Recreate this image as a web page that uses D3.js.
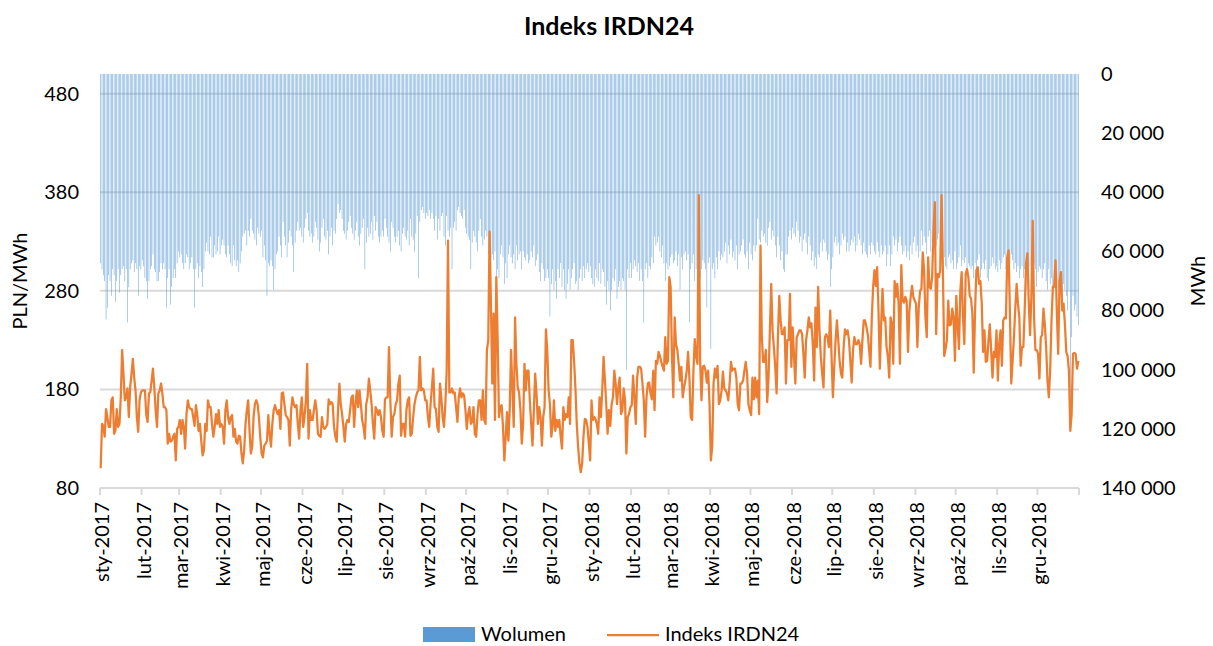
<!DOCTYPE html>
<html>
<head>
<meta charset="utf-8">
<script src="https://cdn.jsdelivr.net/npm/d3@7"></script>
<style>
  body { margin: 0; background: #fff; }
  svg text { font-family: Lato, "Open Sans", sans-serif; fill: #000; }
</style>
</head>
<body>
<svg id="chart" width="1213" height="646"></svg>
<script>
// daily IRDN24 index, PLN/MWh, 1 Jan 2017 .. 31 Dec 2018
const price2017a = [
  100,145,143,132,160,152,142,142,169,172,135,138,160,142,145,172,220,196,169,172,
  181,152,182,196,211,192,179,152,137,169,177,179,179,179,154,147,176,177,189,201,
  182,159,142,176,179,186,176,162,162,159,125,135,127,128,132,135,108,140,142,149,
  135,149,142,120,155,169,162,160,160,152,143,164,155,138,145,128,113,118,145,138,
  169,162,162,145,132,142,155,145,159,142,145,142,125,159,169,152,145,152,154,132,
  140,127,125,133,132,115,105,118,145,159,169,138,115,122,152,165,169,165,152,132,
  115,111,123
];
const price2017b = [
  125,128,154,135,122,145,159,164,159,155,159,140,176,177,165,154,152,149,123,159,
  172,165,162,164,145,130,159,172,142,152,169,206,130,159,149,149,159,169,159,135,
  133,132,152,142,140,142,145,170,165,167,165,142,132,127,159,186,165,155,142,127,
  145,149,147,159,172,174,142,165,179,162,179,165,149,142,130,165,172,191,179,165,
  145,130,162,159,154,159,152,138,132,170,172,172,223,169,132,152,155,165,169,186,
  194,133,145,145,132,159,169,172,133,135,152,165,172,177,179,213,179,181,179,169,
  169,152,142
];
const price2017c = [
  165,182,201,162,160,142,137,186,172,152,142,165,199,331,177,177,181,176,177,162,
  147,172,181,172,176,174,159,140,155,162,145,147,162,135,132,155,169,169,149,179,
  149,145,220,230,340,267,186,257,149,294,233,152,162,164,142,108,132,157,128,159,
  220,182,142,253,206,182,177,159,125,145,206,179,199,199,169,145,123,159,196,176,
  145,162,152,123,152,162,241,220,179,165,132,142,169,138,149,142,149,132,120,162,
  149,155,152,172,145,230,230,209,182,145,122,105,96,105,132,150,149,142,125,108
];
const price2018a = [
  169,149,152,150,145,135,172,152,179,213,189,165,135,159,143,165,172,199,186,165,
  182,192,155,159,181,169,115,152,155,162,164,194,172,145,192,203,203,201,186,169,
  132,172,186,187,176,170,199,159,209,206,218,214,208,203,199,233,206,209,294,284,
  213,172,253,226,220,206,189,203,172,182,189,199,218,192,152,149,199,231,213,206,
  377,209,169,203,204,199,187,199,165,108,122,186,201,192,204,165,169,179,198,181,
  179,176,169,186,208,199,201,201,192,165,159,186,186,189,199,208,196,165,159,154,
  192,170,192
];
const price2018b = [
  172,189,155,326,233,208,208,220,167,192,240,287,240,223,203,176,233,275,250,236,
  236,243,186,230,230,277,203,243,213,186,233,236,240,240,236,216,192,230,240,253,
  243,247,226,189,263,223,284,240,213,196,182,233,236,233,223,260,213,172,203,230,
  250,230,209,196,192,223,241,236,240,230,209,187,220,233,226,226,230,226,206,230,
  250,250,243,236,220,203,253,284,301,285,304,260,201,247,282,250,253,223,213,192,
  253,247,206,290,274,287,267,206,306,270,268,274,270,218,260,274,285,274,270,267,
  223,263,280
];
const price2018c = [
  282,319,301,253,233,314,284,282,294,341,370,236,297,294,301,377,301,214,221,230,
  270,245,246,262,253,209,275,246,221,280,299,253,226,297,302,294,275,272,257,197,
  260,301,304,287,290,267,218,240,208,209,230,246,220,192,218,213,240,189,226,240,
  204,250,253,252,314,321,257,186,209,233,263,287,267,253,204,223,223,260,307,318,
  270,235,274,351,253,220,220,216,191,233,235,262,246,223,189,172,199,250,284,284,
  311,257,216,290,299,260,267,246,218,214,199,138,155,216,217,216,201,209
];

// daily volume, thousands of MWh, same days
const vol2017a = [
  64,66,68,70,83,79,68,70,75,66, 68,77,70,66,74,68,66,65,70,66,
  84,72,66,64,63,67,64,66,75,65, 66,63,65,69,70,76,70,66,65,61,
  66,67,70,70,67,64,66,64,66,79, 69,66,78,72,69,66,69,64,60,62,
  61,64,66,64,61,62,66,64,62,66, 79,66,64,69,65,67,72,66,60,57,
  60,61,55,62,62,58,61,60,55,61, 58,56,58,61,62,58,61,64,65,58,
  63,65,63,67,64,60,55,54,53,58, 53,55,49,53,54,56,58,52,54,55,
  53,62,58
];
const vol2017b = [
  63,75,64,65,63,65,73,66,61,60,55,58,62,
  50,55,58,62,57,53,55,58,67,57,53,50,
  53,52,55,57,52,49,47,53,55,54,57,55,50,
  52,56,60,57,52,49,55,56,53,61,55,52,
  58,53,54,49,44,47,46,49,53,54,56,53,50,
  48,52,54,56,53,50,55,58,54,52,49,66,
  57,52,55,54,50,56,48,53,50,55,57,55,53,
  55,49,52,55,57,60,50,52,55,57,55,53,
  58,60,54,52,55,56,53,58,49,55,56,60,54,
  48,69,50,46,45,47,49,47,48,46
];
const vol2017c = [
  49,47,49,53,48,56,49,53,48,47,55,58,
  48,53,55,52,66,52,50,53,46,45,47,48,49,
  46,52,54,55,56,66,57,53,55,57,60,53,
  49,55,58,56,53,55,61,58,62,61,63,60,71,
  66,69,61,58,62,71,64,69,61,58,62,64,
  61,66,58,63,61,60,66,60,62,63,61,64,63,
  60,62,58,65,63,61,67,70,64,66,70,69,
  66,69,82,71,66,73,70,76,66,69,64,72,66,
  73,76,71,66,73,69,66,64,71,70,
  73,69,66,70,65,69,66,64,67,65
];
const vol2018a = [
  69,71,72,66,69,70,64,71,66,67,72,78,
  70,73,80,73,69,70,66,76,72,70,73,69,70,
  73,100,66,69,64,69,66,63,65,67,64,70,
  66,70,84,66,64,69,65,66,62,64,55,58,57,
  55,60,62,58,64,70,64,66,65,62,61,64,
  63,60,65,61,73,62,66,61,60,63,61,84,66,
  64,61,70,66,63,65,69,66,63,64,66,79,
  64,62,93,66,64,69,62,66,60,63,61,62,60,
  57,64,58,61,56,62,60,63,58,66,61,60,
  58,56,61,62,60,66,57,61,63,58,60
];
const vol2018b = [
  58,49,56,57,53,55,54,57,58,52,50,56,
  53,55,58,62,55,58,63,60,66,67,61,61,55,
  53,56,52,54,55,50,53,57,55,60,56,54,
  57,61,55,58,63,60,65,62,66,61,62,57,60,
  56,57,60,63,61,72,66,62,57,55,58,57,
  61,58,54,56,55,60,57,60,58,56,57,55,60,
  58,54,56,58,61,57,60,61,62,58,61,57,
  58,60,61,57,60,62,58,61,60,58,65,61,58,
  65,61,55,58,56,60,57,55,58,61,60,58,
  62,60,63,58,61,57,55,60,58,62,60
];
const vol2018c = [
  53,58,55,57,61,55,53,60,57,55,55,58,
  56,54,60,57,61,62,65,66,62,61,64,63,66,
  60,66,64,62,58,65,63,64,62,66,64,65,
  66,65,69,64,66,63,61,69,66,64,66,63,69,
  70,66,65,62,64,66,65,67,63,66,64,62,
  61,66,67,65,64,61,63,66,64,67,65,69,66,
  65,69,66,73,66,69,65,67,70,64,66,72,
  67,65,66,69,66,64,70,73,66,71,69,75,72,
  66,71,73,75,72,78,71,73,75,80,73,114,89,75,80,78,82,85
];

const monthNames = ["sty", "lut", "mar", "kwi", "maj", "cze", "lip", "sie", "wrz", "paź", "lis", "gru"];
const priceTicks = [80, 180, 280, 380, 480];
const volumeTicks = [0, 20000, 40000, 60000, 80000, 100000, 120000, 140000];

const price = [].concat(price2017a, price2017b, price2017c, price2018a, price2018b, price2018c);
const volume = [].concat(vol2017a, vol2017b, vol2017c, vol2018a, vol2018b, vol2018c).map(v => v * 1000);

const start = new Date(Date.UTC(2017, 0, 1));
const end = new Date(Date.UTC(2019, 0, 1));
const rows = price.map((p, i) => ({ date: d3.utcDay.offset(start, i), price: p, volume: volume[i] }));

const margin = { top: 74, right: 134, bottom: 158, left: 100 };
const W = 1213, H = 646;
const plotW = W - margin.left - margin.right;
const plotH = H - margin.top - margin.bottom;

const svg = d3.select("#chart");
const g = svg.append("g").attr("transform", "translate(" + margin.left + "," + margin.top + ")");

const x = d3.scaleUtc().domain([start, end]).range([0, plotW]);
const slot = x(d3.utcDay.offset(start, 1)) - x(start);
const yPrice = d3.scaleLinear().domain([80, 500]).range([plotH, 0]);
const yVol = d3.scaleLinear().domain([0, 140000]).range([0, plotH]);

const plFormat = d3.formatLocale({ decimal: ",", thousands: "\u00a0", grouping: [3], currency: ["", ""] }).format(",");

// gridlines
g.append("g").selectAll("line")
  .data(priceTicks.filter(t => t !== 80))
  .join("line")
  .attr("x1", 0).attr("x2", plotW)
  .attr("y1", d => yPrice(d)).attr("y2", d => yPrice(d))
  .attr("stroke", "#d9d9d9").attr("stroke-width", 2);

// volume bars hanging from the top (thin, so they come out light like the original)
const barW = slot * 0.38;
g.append("g").selectAll("rect")
  .data(rows)
  .join("rect")
  .attr("x", d => x(d.date) + (slot - barW) / 2)
  .attr("width", barW)
  .attr("y", 0)
  .attr("height", d => yVol(d.volume))
  .attr("fill", "#5b9bd5");

// bottom axis
const months = d3.utcMonth.range(start, d3.utcDay.offset(end, 1));
const xAxis = g.append("g").attr("transform", "translate(0," + plotH + ")");
xAxis.append("line").attr("x1", 0).attr("x2", plotW).attr("stroke", "#d9d9d9").attr("stroke-width", 2);
xAxis.selectAll(".tick")
  .data(months)
  .join("line")
  .attr("class", "tick")
  .attr("x1", d => x(d)).attr("x2", d => x(d))
  .attr("y1", 0).attr("y2", 7)
  .attr("stroke", "#d9d9d9").attr("stroke-width", 2);
xAxis.selectAll("text")
  .data(months.slice(0, 24))
  .join("text")
  .attr("transform", d => "translate(" + (x(d) + 2) + ",14) rotate(-90)")
  .attr("text-anchor", "end")
  .attr("dy", "0.35em")
  .style("font-size", "20px")
  .text(d => monthNames[d.getUTCMonth()] + "-" + d.getUTCFullYear());

// price line
const line = d3.line()
  .x(d => x(d.date) + slot / 2)
  .y(d => yPrice(d.price));
g.append("path")
  .datum(rows)
  .attr("d", line)
  .attr("fill", "none")
  .attr("stroke", "#ed7d31")
  .attr("stroke-width", 2.25)
  .attr("stroke-linejoin", "round");

// left axis
const leftAxis = g.append("g")
  .call(d3.axisLeft(yPrice).tickValues(priceTicks).tickSize(0).tickPadding(21));
leftAxis.select(".domain").remove();
leftAxis.selectAll("text").style("font-size", "20px").style("font-family", "Lato, sans-serif");

// right axis
const rightAxis = g.append("g")
  .attr("transform", "translate(" + plotW + ",0)")
  .call(d3.axisRight(yVol).tickValues(volumeTicks).tickSize(0).tickPadding(22).tickFormat(plFormat));
rightAxis.select(".domain").remove();
rightAxis.selectAll("text").style("font-size", "20px").style("font-family", "Lato, sans-serif");

// axis titles
svg.append("text")
  .attr("transform", "translate(27,281) rotate(-90)")
  .attr("text-anchor", "middle")
  .style("font-size", "20px")
  .text("PLN/MWh");
svg.append("text")
  .attr("transform", "translate(1205,281) rotate(-90)")
  .attr("text-anchor", "middle")
  .style("font-size", "20px")
  .text("MWh");

// title
svg.append("text")
  .attr("x", 609).attr("y", 35)
  .attr("text-anchor", "middle")
  .style("font-size", "25px")
  .style("font-weight", "bold")
  .text("Indeks IRDN24");

// legend
const legend = svg.append("g");
legend.append("rect").attr("x", 423).attr("y", 627).attr("width", 52).attr("height", 15).attr("fill", "#5b9bd5");
legend.append("text").attr("x", 481).attr("y", 641).style("font-size", "20px").text("Wolumen");
legend.append("line").attr("x1", 607).attr("x2", 659).attr("y1", 635).attr("y2", 635)
  .attr("stroke", "#ed7d31").attr("stroke-width", 2.25);
legend.append("text").attr("x", 665).attr("y", 641).style("font-size", "20px").text("Indeks IRDN24");
</script>
</body>
</html>
